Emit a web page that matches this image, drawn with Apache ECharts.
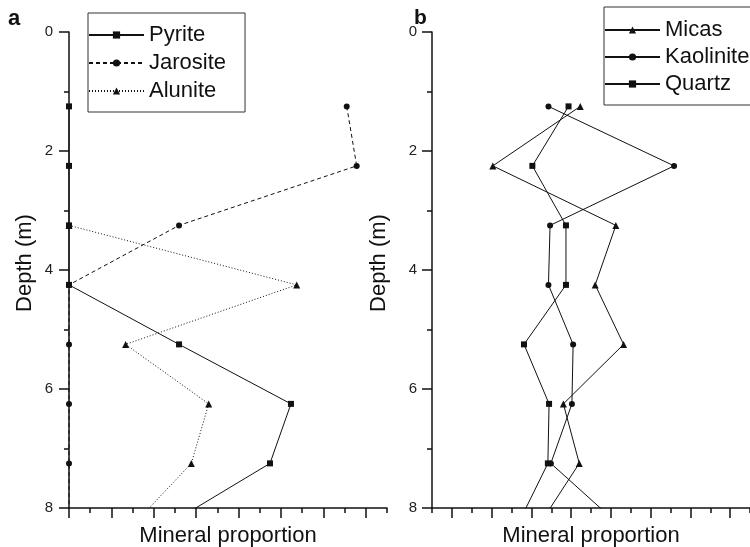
<!DOCTYPE html>
<html><head><meta charset="utf-8">
<script src="https://cdn.jsdelivr.net/npm/echarts@6/dist/echarts.min.js"></script>
<style>html,body{margin:0;padding:0;background:#fff}#c{width:750px;height:547px}</style>
</head><body><div id="c"></div>
<script>
// ---- data (x in axis tick units, depth in m) ----
const depths = [1.25, 2.25, 3.25, 4.25, 5.25, 6.25, 7.25, 8.25];
// panel a
const pyrite   = [0, 0, 0, 0, 5.19, 10.47, 9.48, 4.81];
const jarosite = [13.1, 13.57, 5.19, 0, 0, 0, 0, 0];
const alunite  = [null, null, 0, 10.74, 2.67, 6.59, 5.77, 3.12];
// panel b
const micas     = [7.46, 3.06, 9.25, 8.21, 9.64, 6.61, 7.41, 5.46];
const kaolinite = [5.86, 12.18, 5.94, 5.86, 7.10, 7.04, 5.98, 9.3];
const quartz    = [6.87, 5.05, 6.74, 6.74, 4.63, 5.89, 5.83, 4.36];
// axes
const depthRange = [0, 8];
const depthStep = 2;
const leftXRange = [0, 15];
const rightXRange = [0, 16];
const leftMajorTicks = [0, 2, 4, 6, 8, 10, 12, 14];
const rightMajorTicks = [1, 3, 5, 7, 9, 11, 13, 15];
const legendA = ['Pyrite', 'Jarosite', 'Alunite'];
const legendB = ['Micas', 'Kaolinite', 'Quartz'];
const panelLabels = ['a', 'b'];
const xTitle = 'Mineral proportion';
const yTitle = 'Depth (m)';

// ---- styling ----
const FONT = '"Liberation Sans", Arial, sans-serif';
const INK = '#111';
const AX = {color: INK, width: 1.5};

function pairs(vals) {
  const out = [];
  vals.forEach((v, i) => { if (v !== null) out.push([v, depths[i]]); });
  return out;
}
function line(name, vals, xi, yi, symbol, size, type, z) {
  return {
    name, type: 'line', xAxisIndex: xi, yAxisIndex: yi, data: pairs(vals),
    symbol, symbolSize: size, showSymbol: true, clip: true, z,
    lineStyle: {color: INK, width: 1, type},
    itemStyle: {color: INK},
    emphasis: {disabled: true}, animation: false
  };
}
function dataX(grid, range) {
  return {
    gridIndex: grid, type: 'value', position: 'bottom', min: range[0], max: range[1], interval: 1,
    name: xTitle, nameLocation: 'middle', nameGap: 17,
    nameTextStyle: {fontSize: 22, color: INK, fontFamily: FONT},
    axisLine: {show: true, onZero: false, lineStyle: AX},
    axisTick: {show: true, length: 5, lineStyle: AX},
    axisLabel: {show: false}, splitLine: {show: false}
  };
}
function tickX(grid, range, majors) {
  return {
    gridIndex: grid, type: 'value', position: 'bottom', min: range[0], max: range[1], interval: 1,
    axisLine: {show: false, onZero: false},
    axisTick: {show: true, length: 10, customValues: majors, lineStyle: AX},
    axisLabel: {show: false}, splitLine: {show: false}
  };
}
function depthY(grid, gap, margin) {
  return {
    gridIndex: grid, type: 'value', inverse: true, min: depthRange[0], max: depthRange[1], interval: depthStep,
    name: yTitle, nameLocation: 'middle', nameGap: gap,
    nameTextStyle: {fontSize: 22, color: INK, fontFamily: FONT, padding: [0, 0, 0, 14]},
    axisLine: {show: true, onZero: false, lineStyle: AX},
    axisTick: {show: true, length: 10, lineStyle: AX},
    minorTick: {show: true, splitNumber: 2, length: 5, lineStyle: AX},
    axisLabel: {fontSize: 15, color: '#222', margin, fontFamily: FONT},
    splitLine: {show: false}, minorSplitLine: {show: false}
  };
}
const legendBase = {
  orient: 'vertical', itemWidth: 55, itemHeight: 9, borderColor: '#333', borderWidth: 1,
  textStyle: {fontSize: 22, lineHeight: 22, color: INK, fontFamily: FONT}, selectedMode: false,
  backgroundColor: '#fff'
};

const chart = echarts.init(document.getElementById('c'), null, {renderer: 'canvas'});
chart.setOption({
  animation: false,
  backgroundColor: '#fff',
  grid: [
    {left: 69, top: 32, width: 318, height: 476, containLabel: false, outerBoundsMode: 'none'},
    {left: 432, top: 32, width: 318, height: 476, containLabel: false, outerBoundsMode: 'none'}
  ],
  xAxis: [
    dataX(0, leftXRange), tickX(0, leftXRange, leftMajorTicks),
    dataX(1, rightXRange), tickX(1, rightXRange, rightMajorTicks)
  ],
  yAxis: [depthY(0, 33, 16), depthY(1, 42, 15)],
  legend: [
    Object.assign({}, legendBase, {data: legendA, left: 88, top: 13, padding: [11, 19, 10, 0], itemGap: 6}),
    Object.assign({}, legendBase, {data: legendB, left: 604, top: 7, padding: [12, 19, 10, 0], itemGap: 5})
  ],
  graphic: [
    {type: 'text', left: 8, top: 8, style: {text: panelLabels[0], font: 'bold 22px ' + FONT, fill: INK}},
    {type: 'text', left: 414, top: 8, style: {text: panelLabels[1], font: 'bold 21px ' + FONT, fill: INK}}
  ],
  series: [
    line('Pyrite', pyrite, 0, 0, 'rect', 6, 'solid', 5),
    line('Jarosite', jarosite, 0, 0, 'circle', 6, [4, 3], 4),
    line('Alunite', alunite, 0, 0, 'triangle', 7, [1, 2], 3),
    line('Micas', micas, 2, 1, 'triangle', 7, 'solid', 3),
    line('Kaolinite', kaolinite, 2, 1, 'circle', 6, 'solid', 3),
    line('Quartz', quartz, 2, 1, 'rect', 6, 'solid', 4)
  ]
});
</script>
</body></html>
